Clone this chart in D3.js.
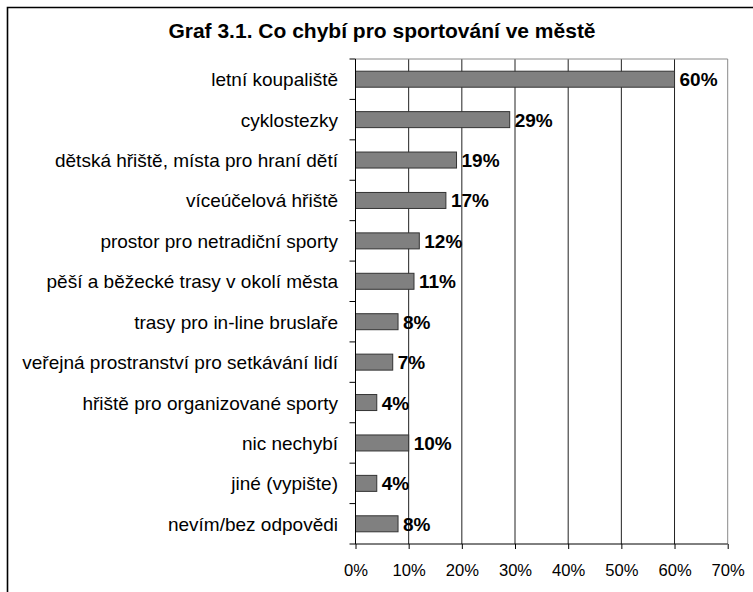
<!DOCTYPE html>
<html>
<head>
<meta charset="utf-8">
<script src="https://cdn.jsdelivr.net/npm/d3@7"></script>
<style>
  body { margin: 0; background: #fff; }
  svg { display: block; }
</style>
</head>
<body>
<div id="chart"></div>
<script>
const categories = [
    'letní koupaliště',
    'cyklostezky',
    'dětská hřiště, místa pro hraní dětí',
    'víceúčelová hřiště',
    'prostor pro netradiční sporty',
    'pěší a běžecké trasy v okolí města',
    'trasy pro in-line bruslaře',
    'veřejná prostranství pro setkávání lidí',
    'hřiště pro organizované sporty',
    'nic nechybí',
    'jiné (vypište)',
    'nevím/bez odpovědi'
]
const values = [60, 29, 19, 17, 12, 11, 8, 7, 4, 10, 4, 8]
const xTicks = [0, 10, 20, 30, 40, 50, 60, 70]
const title = 'Graf 3.1. Co chybí pro sportování ve městě'

const width = 753
const height = 592
const font = '"Liberation Sans", Arial, sans-serif'

// plot area
const margin = { top: 59, left: 355.5, right: 25.3, bottom: 48 }
const innerWidth = width - margin.left - margin.right
const innerHeight = height - margin.top - margin.bottom

const svg = d3.select('#chart')
    .append('svg')
        .attr('width', width)
        .attr('height', height)
        .attr('font-family', font)

// outer frame: only the left and top edge are inside the picture
svg.append('path')
    .attr('d', `M7.5,${height}V7.5H${width}`)
    .style('fill', 'none')
    .style('stroke', '#000')
    .style('stroke-width', 1.6)

svg.append('text')
    .attr('x', 382)
    .attr('y', 38)
    .attr('text-anchor', 'middle')
    .attr('font-size', 21)
    .attr('font-weight', 'bold')
    .text(title)

const xScale = d3.scaleLinear()
    .domain([0, 70])
    .range([0, innerWidth])

const yScale = d3.scaleBand()
    .domain(categories)
    .range([0, innerHeight])

const g = svg.append('g')
    .attr('transform', `translate(${margin.left}, ${margin.top})`)

// vertical gridlines
g.selectAll('.grid')
    .data(xTicks.filter(d => d > 0))
    .enter()
    .append('line')
        .attr('x1', d => xScale(d))
        .attr('x2', d => xScale(d))
        .attr('y1', 0)
        .attr('y2', innerHeight)
        .style('stroke', d => d === 70 ? '#8a8a8a' : '#222')
        .style('stroke-width', 1)

// top border of plot area
g.append('line')
    .attr('x1', 0)
    .attr('x2', innerWidth)
    .attr('y1', 0)
    .attr('y2', 0)
    .style('stroke', '#8a8a8a')
    .style('stroke-width', 1)

const barH = 16
g.selectAll('.bar')
    .data(values)
    .enter()
    .append('rect')
        .attr('x', 0)
        .attr('y', (d, i) => yScale(categories[i]) + (yScale.bandwidth() - barH) / 2)
        .attr('width', d => xScale(d))
        .attr('height', barH)
        .style('fill', '#808080')
        .style('stroke', '#333')
        .style('stroke-width', 1)

g.selectAll('.val')
    .data(values)
    .enter()
    .append('text')
        .attr('x', d => xScale(d) + 5)
        .attr('y', (d, i) => yScale(categories[i]) + yScale.bandwidth() / 2 + 7)
        .attr('font-size', 19)
        .attr('font-weight', 'bold')
        .text(d => d + '%')

// left axis with ticks at band edges
g.append('line')
    .attr('x1', 0).attr('x2', 0)
    .attr('y1', 0).attr('y2', innerHeight)
    .style('stroke', '#000')

g.selectAll('.ytick')
    .data(d3.range(categories.length + 1))
    .enter()
    .append('line')
        .attr('x1', -6)
        .attr('x2', 0)
        .attr('y1', i => i * yScale.step())
        .attr('y2', i => i * yScale.step())
        .style('stroke', '#000')

g.selectAll('.ylab')
    .data(categories)
    .enter()
    .append('text')
        .attr('x', -17.5)
        .attr('y', d => yScale(d) + yScale.bandwidth() / 2 + 7)
        .attr('text-anchor', 'end')
        .attr('font-size', 19)
        .text(d => d)

const xAxis = d3.axisBottom(xScale)
    .tickValues(xTicks)
    .tickSize(5)
    .tickPadding(15)
    .tickFormat(d => d + '%')

const xAxisG = g.append('g')
    .attr('transform', `translate(0, ${innerHeight})`)
    .call(xAxis)
    .attr('font-size', 16.6)
    .attr('font-family', font)

xAxisG.select('.domain').attr('d', `M0,0H${innerWidth}`)
xAxisG.selectAll('text')
    .attr('fill', '#000')
</script>
</body>
</html>
